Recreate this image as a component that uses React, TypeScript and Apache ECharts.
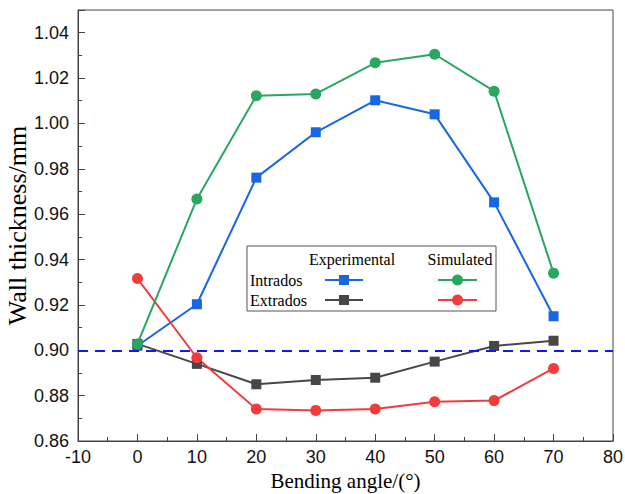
import React, { useEffect, useRef } from "react";
import * as echarts from "echarts";

const angles = [0, 10, 20, 30, 40, 50, 60, 70];
const expIntrados = [0.902, 0.9203, 0.9761, 0.9961, 1.0102, 1.004, 0.9652, 0.915];
const expExtrados = [0.9028, 0.894, 0.885, 0.8869, 0.8879, 0.895, 0.9019, 0.9042];
const simIntrados = [0.9028, 0.9667, 1.0122, 1.013, 1.0267, 1.0305, 1.0142, 0.934];
const simExtrados = [0.9316, 0.8967, 0.8741, 0.8735, 0.8741, 0.8773, 0.8778, 0.892];
const referenceLine = 0.9;

const BLUE = "#1766e3";
const GRAY = "#474747";
const GREEN = "#29a660";
const RED = "#f23b3d";

const pairs = (ys: number[]) => angles.map((x, i) => [x, ys[i]]);

export default function App() {
  const ref = useRef<HTMLDivElement>(null);
  useEffect(() => {
    const chart = echarts.init(ref.current!, undefined, { renderer: "svg" });
    const serif = "'Liberation Serif', 'Times New Roman', serif";
    const sans = "'Liberation Sans', Arial, sans-serif";
    const mkLine = (name: string, data: number[], color: string, symbol: string, size: number) => ({
      name,
      type: "line",
      data: pairs(data),
      symbol,
      symbolSize: size,
      itemStyle: { color },
      lineStyle: { color, width: 2 },
    });
    const lx1 = 325, lx2 = 363, rx1 = 438, rx2 = 477, r1 = 280, r2 = 300;
    chart.setOption({
      animation: false,
      grid: {
        left: 78, right: 12, top: 10, bottom: 53,
        show: true, borderColor: "#444", borderWidth: 1,
        containLabel: false, outerBoundsMode: "none",
      },
      xAxis: {
        type: "value",
        min: -10,
        max: 80,
        interval: 10,
        name: "Bending angle/(°)",
        nameLocation: "middle",
        nameGap: 29,
        nameMoveOverlap: false,
        nameTextStyle: { fontFamily: serif, fontSize: 21, color: "#000" },
        axisLine: { onZero: false, lineStyle: { color: "#444", width: 1 } },
        axisTick: { inside: true, length: 7, lineStyle: { color: "#444" } },
        minorTick: { show: true, splitNumber: 2, length: 4, lineStyle: { color: "#444" } },
        splitLine: { show: false },
        axisLabel: { fontFamily: sans, fontSize: 18, color: "#111", margin: 7 },
      },
      yAxis: {
        type: "value",
        min: 0.86,
        max: 1.05,
        interval: 0.02,
        name: "Wall thickness/mm",
        nameLocation: "middle",
        nameGap: 48,
        nameMoveOverlap: false,
        nameRotate: 90,
        nameTextStyle: { fontFamily: serif, fontSize: 26, color: "#000" },
        axisLine: { show: true, onZero: false, lineStyle: { color: "#444", width: 1 } },
        axisTick: { inside: true, length: 7, lineStyle: { color: "#444" } },
        minorTick: { show: true, splitNumber: 2, length: 4, lineStyle: { color: "#444" } },
        splitLine: { show: false },
        axisLabel: {
          fontFamily: sans,
          fontSize: 18,
          color: "#111",
          margin: 9,
          showMaxLabel: false,
          formatter: (v: number) => v.toFixed(2),
        },
      },
      series: [
        {
          ...mkLine("Intrados Experimental", expIntrados, BLUE, "rect", 10),
          markLine: {
            silent: true,
            symbol: "none",
            label: { show: false },
            lineStyle: { color: "#1515f5", width: 2, type: [10, 7] },
            data: [{ yAxis: referenceLine }],
          },
        },
        mkLine("Extrados Experimental", expExtrados, GRAY, "rect", 10),
        mkLine("Extrados Simulated", simExtrados, RED, "circle", 11),
        mkLine("Intrados Simulated", simIntrados, GREEN, "circle", 11),
      ],
      graphic: [
        { type: "rect", shape: { x: 247, y: 246, width: 249, height: 65 }, style: { fill: "#fff", stroke: "#555", lineWidth: 1 }, z: 100 },
        { type: "text", x: 352, y: 259, style: { text: "Experimental", font: `16px ${serif}`, fill: "#000", textAlign: "center", textVerticalAlign: "middle" }, z: 101 },
        { type: "text", x: 460, y: 259, style: { text: "Simulated", font: `16px ${serif}`, fill: "#000", textAlign: "center", textVerticalAlign: "middle" }, z: 101 },
        { type: "text", x: 250, y: r1, style: { text: "Intrados", font: `16px ${serif}`, fill: "#000", textAlign: "left", textVerticalAlign: "middle" }, z: 101 },
        { type: "text", x: 250, y: r2, style: { text: "Extrados", font: `16px ${serif}`, fill: "#000", textAlign: "left", textVerticalAlign: "middle" }, z: 101 },
        { type: "line", shape: { x1: lx1, y1: r1, x2: lx2, y2: r1 }, style: { stroke: BLUE, lineWidth: 2 }, z: 101 },
        { type: "rect", shape: { x: 339, y: r1 - 5, width: 10, height: 10 }, style: { fill: BLUE }, z: 102 },
        { type: "line", shape: { x1: lx1, y1: r2, x2: lx2, y2: r2 }, style: { stroke: GRAY, lineWidth: 2 }, z: 101 },
        { type: "rect", shape: { x: 339, y: r2 - 5, width: 10, height: 10 }, style: { fill: GRAY }, z: 102 },
        { type: "line", shape: { x1: rx1, y1: r1, x2: rx2, y2: r1 }, style: { stroke: GREEN, lineWidth: 2 }, z: 101 },
        { type: "circle", shape: { cx: 457.5, cy: r1, r: 5.5 }, style: { fill: GREEN }, z: 102 },
        { type: "line", shape: { x1: rx1, y1: r2, x2: rx2, y2: r2 }, style: { stroke: RED, lineWidth: 2 }, z: 101 },
        { type: "circle", shape: { cx: 457.5, cy: r2, r: 5.5 }, style: { fill: RED }, z: 102 },
      ],
    });
    return () => chart.dispose();
  }, []);
  return <div ref={ref} style={{ width: 625, height: 494, position: "absolute", left: 0, top: 0 }} />;
}
